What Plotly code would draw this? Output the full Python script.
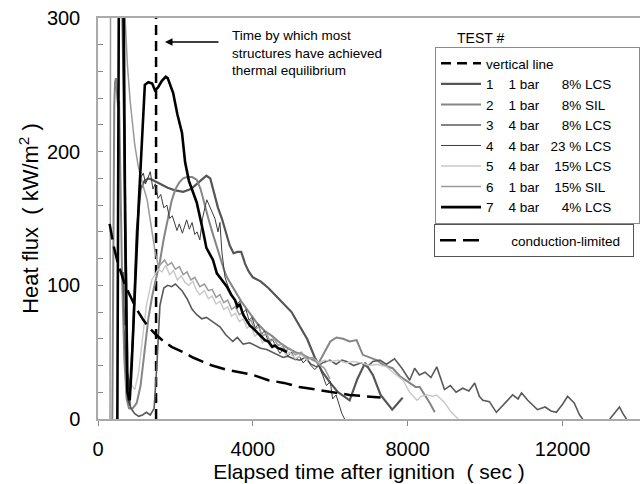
import plotly.graph_objects as go

# ---------------- data ----------------
vline_t = [1500, 1500]
vline_q = [0, 300]

t1 = [620, 700, 760, 800, 900, 1000, 1100, 1200, 1300, 1400, 1600, 1800, 2000, 2200, 2400, 2600, 2800, 2900,
      3000, 3100, 3200, 3300, 3400, 3500, 3600, 3700, 3800, 3900, 4000, 4200, 4400, 4600, 4800, 5000, 5200, 5400, 5600,
      5800, 6000, 6200, 6500, 6700, 6900, 7100, 7300, 7600, 7750, 7870]
q1 = [330, 150, 40, 12, 60, 140, 172, 178, 180, 179, 176, 173, 171, 170, 172, 177, 182, 180,
      168, 158, 150, 140, 130, 124, 125, 125, 116, 110, 106, 103, 98, 92, 86, 80, 70, 60, 46,
      35, 27, 20, 14, 30, 42, 33, 18, 7, 12, 16]

t2 = [370, 395, 420, 440, 465, 500, 520, 545, 570, 620, 680, 740, 800, 900, 1000, 1100, 1200, 1300, 1400, 1500, 1600,
      1700, 1800, 1900, 2000, 2100, 2200, 2300, 2430, 2550, 2650, 2750, 2850, 2950, 3050, 3150, 3250, 3330, 3500, 3700,
      3900, 4100, 4300, 4500, 4700, 4900, 5100, 5300, 5500, 5700, 5850, 6000, 6160, 6330, 6500, 6680, 6840, 7000, 7200,
      7400, 7610, 7800, 8050, 8200, 8310, 8450, 8570, 8700]
q2 = [0, 150, 235, 252, 255, 240, 233, 238, 197, 110, 45, 15, 8, 8, 12, 25, 50, 75, 92, 104, 118,
      135, 150, 163, 172, 177, 180, 181, 181, 179, 172, 160, 150, 140, 130, 120, 112, 106, 98, 88,
      80, 72, 66, 62, 57, 53, 50, 48, 45, 42, 50, 58, 61, 60, 58, 59, 48, 46, 44,
      40, 38, 32, 27, 24, 24, 18, 12, 5]

t3 = [650, 700, 760, 850, 950, 1050, 1150, 1250, 1350, 1450, 1520, 1600, 1700, 1800, 1900, 2000, 2100, 2170,
      2300, 2430, 2550, 2680, 2800, 2940, 3050, 3150, 3300, 3480, 3600, 3750, 3920, 4050, 4200, 4360, 4500, 4650, 4780,
      4900, 5050, 5210, 5350, 5500, 5650, 5800, 5990, 6150, 6300, 6420, 6600, 6800, 6950, 7100, 7280, 7450, 7660, 7850,
      8050, 8180, 8300, 8450, 8600, 8750, 8950, 9100, 9250, 9420, 9580, 9730, 9850, 9940, 10110, 10290, 10450, 10600,
      10710, 10850, 10940, 11100, 11350, 11550, 11700, 11840, 12000, 12130, 12300, 12440, 12520, None, 13220, 13350,
      13470, 13560, 13650]
q3 = [110, 55, 20, 8, 4, 2, 3, 5, 3, 8, 40, 85, 98, 100, 99, 101, 98, 96,
      90, 82, 78, 75, 76, 73, 71, 69, 63, 58, 61, 56, 57, 55, 53, 52, 50, 48, 46,
      47, 45, 44, 46, 41, 39, 42, 44, 41, 44, 43, 40, 42, 39, 43, 44, 41, 45, 38,
      29, 38, 33, 35, 31, 39, 22, 25, 20, 23, 21, 27, 17, 14, 13, 5, 10, 14,
      18, 15, 19.5, 14, 7, 9, 6, 5, 11, 17, 12, 3, 0, None, 0, 5,
      9, 4, 0]

t4 = [640, 700, 760, 820, 900, 1000, 1100, 1170, 1230, 1300, 1350, 1420, 1480, 1550, 1620, 1700, 1780, 1850,
      1920, 2040, 2100, 2180, 2290, 2360, 2430, 2500, 2560, 2630, 2700, 2760, 2810, 2870, 2950, 3020, 3100, 3150, 3200,
      3280, 3350, 3420, 3500, 3580, 3660, 3740, 3820, 3900, 3980, 4060, 4140, 4220, 4300, 4400, 4500, 4600, 4700, 4800,
      4900, 5000, 5100, 5200, 5300, 5400, 5500, 5600, 5700, 5800, 5900, 6000, 6060, 6150, 6250, 6300, 6370]
q4 = [330, 100, 15, 10, 60, 140, 180, 184, 176, 182, 185, 172, 176, 165, 168, 158, 160, 150,
      152, 141, 146, 139, 149, 142, 147, 138, 140, 134, 150, 158, 164, 160, 154, 150, 140, 147, 125,
      106, 100, 95, 90, 86, 88, 79, 82, 74, 76, 68, 71, 63, 66, 58, 60, 54, 49, 53,
      47, 50, 44, 47, 42, 45, 40, 37, 40, 33, 25, 28, 15, 18, 8, 4, 0]

t5 = [700, 800, 880, 950, 1050, 1150, 1250, 1390, 1480, 1550, 1650, 1750, 1850, 1950, 2050, 2150, 2250,
      2350, 2450, 2550, 2630, 2750, 2850, 2950, 3050, 3150, 3250, 3350, 3450, 3550, 3650, 3750, 3850, 3950, 4050, 4150,
      4250, 4350, 4450, 4550, 4650, 4750, 4850, 4950, 5100, 5250, 5400, 5550, 5700, 5850, 6000, 6200, 6400, 6600, 6800,
      7000, 7200, 7460, 7650, 7880, 8050, 8240, 8350, 8490, 8650, 8750, 8960, 9100, 9300]
q5 = [70, 35, 25, 22, 35, 58, 85, 104, 108, 112, 110, 115, 108, 111, 104, 107, 102,
      100, 103, 96, 93, 96, 90, 92, 86, 88, 82, 84, 77, 79, 73, 75, 68, 70, 62, 64,
      57, 60, 54, 56, 52, 54, 48, 50, 45, 48, 44, 46, 42, 44, 43, 44, 42, 43, 42,
      40, 41, 39, 34, 29, 20, 14, 17, 18, 17, 18, 12, 6, 0]

t6 = [310, 325, 620, 700, 760, 830, 950, 1040, 1150, 1270, 1370, 1470, 1560, 1650, 1720, 1800, 1900, 2000, 2100, 2200,
      2300, 2400, 2500, 2630, 2750, 2850, 2950, 3050, 3150, 3250, 3350, 3450, 3550, 3650, 3750, 3850, 3950, 4050, 4150,
      4250, 4350, 4450, 4550, 4650, 4750, 4850, 4950, 5100, 5250, 5400, 5550, 5700, 5850, 5990]
q6 = [0, 330, 330, 300, 265, 238, 205, 189, 176, 164, 145, 126, 114, 117, 119, 115, 117, 112, 114, 108,
      110, 104, 106, 99, 101, 96, 97, 91, 93, 87, 89, 82, 84, 78, 80, 72, 74, 67, 69,
      62, 64, 58, 60, 55, 56, 51, 53, 48, 50, 45, 46, 41, 38, 30]

t7 = [500, 540, 660, 700, 760, 820, 870, 950, 1050, 1130, 1210, 1300, 1400, 1470, 1550, 1650, 1750, 1800, 1870, 1940,
      2050, 2170, 2250, 2350, 2450, 2550, 2710, 2800, 2970, 3070, 3200, 3330, 3440, 3540, 3600, 3660, 3750, 3850, 3920,
      4000, 4100, 4200, 4310, 4400, 4500, 4570, 4650, 4750, 4880]
q7 = [0, 330, 330, 150, 20, 14, 40, 96, 160, 205, 250, 252, 251, 246, 248, 253, 256, 255, 249, 244,
      228, 214, 192, 178, 170, 162, 141, 128, 119, 109, 104, 99, 93, 89, 84, 86, 78, 73, 70,
      68, 65, 62, 59, 58, 54, 55, 53, 52, 50]

cond_t = [300, 400, 500, 600, 700, 800, 1000, 1150, 1300, 1500, 1700, 1900, 2200, 2450, 2700, 2950, 3300, 3700, 4000,
          4400, 4800, 5200, 5800, 6500, 7300]
cond_q = [146, 130, 118, 108, 100, 94, 82, 75, 69, 63, 58, 54, 50, 46, 43, 40, 37, 35, 33,
          29, 27, 24, 21, 18, 16]

x_tickvals = [0, 4000, 8000, 12000]
x_ticktext = ["0", "4000", "8000", "12000"]
y_tickvals = [0, 100, 200, 300]

NB = "\u00a0"
test_labels = [
    "1" + NB * 4 + "1 bar" + NB * 6 + "8% LCS" + NB * 6,
    "2" + NB * 4 + "1 bar" + NB * 6 + "8% SIL" + NB * 6,
    "3" + NB * 4 + "4 bar" + NB * 6 + "8% LCS" + NB * 6,
    "4" + NB * 4 + "4 bar" + NB * 3 + "23 % LCS" + NB * 6,
    "5" + NB * 4 + "4 bar" + NB * 4 + "15% LCS" + NB * 6,
    "6" + NB * 4 + "1 bar" + NB * 4 + "15% SIL" + NB * 6,
    "7" + NB * 4 + "4 bar" + NB * 6 + "4% LCS" + NB * 6,
]

series = [(t1, q1), (t2, q2), (t3, q3), (t4, q4), (t5, q5), (t6, q6), (t7, q7)]
colors = ["#555555", "#858585", "#5a5a5a", "#3c3c3c", "#c8c8c8", "#9a9a9a", "#000000"]
widths = [2.2, 2.0, 1.6, 1.0, 1.4, 1.5, 2.6]

FONT = "Liberation Sans, Arial, sans-serif"

fig = go.Figure()

fig.add_trace(go.Scatter(x=vline_t, y=vline_q, mode="lines", name="vertical line",
                         line=dict(color="black", width=2.5, dash="10px,6px"), legend="legend"))
for (tx, qy), name, c, w in zip(series, test_labels, colors, widths):
    fig.add_trace(go.Scatter(x=tx, y=qy, mode="lines", name=name,
                             line=dict(color=c, width=w), legend="legend", connectgaps=False))

fig.add_trace(go.Scatter(x=cond_t, y=cond_q, mode="lines", name=NB * 7 + "conduction-limited" + NB * 2,
                         line=dict(color="black", width=2.5, dash="16px,7px"), legend="legend2"))

fig.update_layout(
    width=640, height=484,
    margin=dict(l=98, r=0, t=18, b=65),
    paper_bgcolor="white", plot_bgcolor="white",
    font=dict(family=FONT, color="black"),
    showlegend=True,
    legend=dict(x=(435 - 98) / 542, y=(419 - 47) / 401, xanchor="left", yanchor="top",
                bordercolor="#8a8a8a", borderwidth=1, bgcolor="white",
                font=dict(size=13.5, family=FONT), tracegroupgap=0, itemwidth=40),
    legend2=dict(x=(434 - 98) / 542, y=(419 - 224) / 401, xanchor="left", yanchor="top",
                 bordercolor="#555555", borderwidth=1, bgcolor="white",
                 font=dict(size=13.5, family=FONT), itemwidth=40),
    xaxis=dict(range=[0, 14000], tickvals=x_tickvals, ticktext=x_ticktext, ticks="outside", ticklen=5,
               tickcolor="#888", showline=True, linecolor="#aaaaaa", linewidth=1.5, mirror=True,
               showgrid=False, zeroline=False, tickfont=dict(size=20), ticklabelstandoff=6,
               title=dict(text="Elapsed time after ignition  ( sec )", font=dict(size=21), standoff=0)),
    yaxis=dict(range=[0, 300], tickvals=y_tickvals, ticks="inside", ticklen=5,
               tickcolor="#888", showline=True, linecolor="#aaaaaa", linewidth=1.5,
               showgrid=False, zeroline=False, tickfont=dict(size=20), ticklabelstandoff=12,
               minor=dict(dtick=20, ticks="inside", ticklen=5, tickcolor="#888"),
               title=dict(text="Heat flux  ( kW/m<sup>2</sup> )", font=dict(size=22), standoff=2)),
)

fig.add_annotation(text="Time by which most<br>structures have achieved<br>thermal equilibrium",
                   xref="paper", yref="paper", x=(230 - 98) / 542, y=(419 - 26) / 401,
                   xanchor="left", yanchor="top", align="left", showarrow=False,
                   font=dict(size=13.5, family=FONT))
fig.add_annotation(text="", x=1730, y=282, ax=3150, ay=282, xref="x", yref="y", axref="x", ayref="y",
                   showarrow=True, arrowhead=2, arrowsize=1, arrowwidth=1.5, arrowcolor="black")
fig.add_annotation(text="TEST #", xref="paper", yref="paper", x=(455 - 98) / 542, y=(419 - 28) / 401,
                   xanchor="left", yanchor="top", showarrow=False, font=dict(size=14, family=FONT))

fig.write_html("out.html")
